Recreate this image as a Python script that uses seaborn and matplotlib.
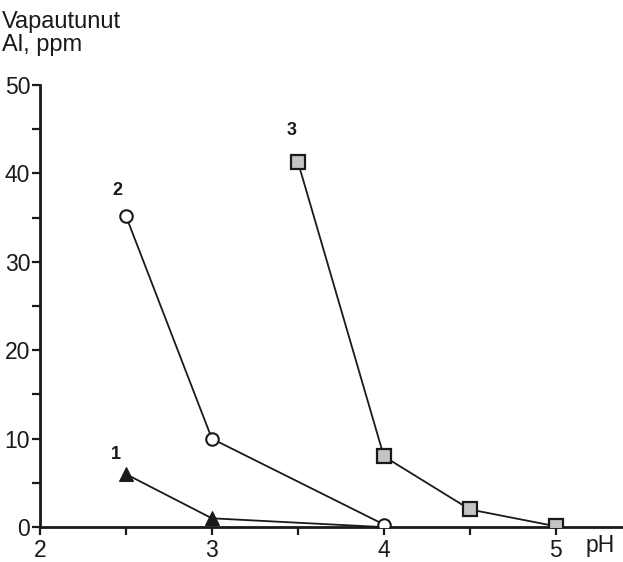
import matplotlib
matplotlib.use("Agg")
import matplotlib.pyplot as plt
import seaborn as sns
import pandas as pd

# Released aluminium (ppm) as a function of pH for three samples
ph_1 = [2.5, 3.0, 4.0]
al_1 = [6.0, 1.0, 0.0]
ph_2 = [2.5, 3.0, 4.0]
al_2 = [35.2, 10.0, 0.3]
ph_3 = [3.5, 4.0, 4.5, 5.0]
al_3 = [41.3, 8.0, 2.0, 0.1]
series_labels = ["1", "2", "3"]
x_ticks = [2, 3, 4, 5]
y_ticks = [0, 10, 20, 30, 40, 50]

sns.set_style("ticks")
plt.rcParams["font.family"] = ["Liberation Sans", "DejaVu Sans"]

fig = plt.figure(figsize=(6.23, 5.62), dpi=100)
ax = fig.add_axes([0.064, 0.062, 0.936, 0.787])

df1 = pd.DataFrame({"pH": ph_1, "Al": al_1})
df2 = pd.DataFrame({"pH": ph_2, "Al": al_2})
df3 = pd.DataFrame({"pH": ph_3, "Al": al_3})

sns.lineplot(data=df1, x="pH", y="Al", ax=ax, color="#1a1a1a", lw=1.3,
             marker="^", markersize=10, markerfacecolor="#1a1a1a",
             markeredgecolor="#1a1a1a", zorder=3)
sns.lineplot(data=df2, x="pH", y="Al", ax=ax, color="#1a1a1a", lw=1.3,
             marker="o", markersize=9, markerfacecolor="white",
             markeredgecolor="#1a1a1a", markeredgewidth=1.5, zorder=3)
sns.lineplot(data=df3, x="pH", y="Al", ax=ax, color="#1a1a1a", lw=1.3,
             marker="s", markersize=10, markerfacecolor="#c4c4c4",
             markeredgecolor="#1a1a1a", markeredgewidth=1.6, zorder=3)

# Series numbers placed above the first point of each curve
label_offsets = [(-10, 20), (-9, 25), (-6, 31)]
for lab, xs, ys, off in zip(series_labels, [ph_1, ph_2, ph_3], [al_1, al_2, al_3],
                            label_offsets):
    ax.annotate(lab, (xs[0], ys[0]), xytext=off, textcoords="offset pixels",
                ha="center", va="center", fontsize=13, fontweight="bold",
                color="#1a1a1a")

ax.set_xlim(2, 5.39)
ax.set_ylim(0, 50)
ax.set_xticks(x_ticks)
ax.set_yticks(y_ticks)
ax.set_xticks([2.5, 3.5, 4.5], minor=True)
ax.set_yticks([5, 15, 25, 35, 45], minor=True)
ax.tick_params(axis="both", which="both", direction="out", length=6, width=1.6,
               labelsize=16.5, color="#1a1a1a", labelcolor="#1a1a1a")
ax.tick_params(axis="x", pad=2.5)
ax.tick_params(axis="y", pad=1)

ax.set_xlabel("")
ax.set_ylabel("")
for side in ["top", "right"]:
    ax.spines[side].set_visible(False)
for side in ["left", "bottom"]:
    ax.spines[side].set_linewidth(2)
    ax.spines[side].set_color("#1a1a1a")
ax.spines["left"].set_zorder(5)

fig.text(0.003, 0.98, "Vapautunut\nAl, ppm", ha="left", va="top",
         fontsize=17, color="#1a1a1a", linespacing=1.05)
ax.text(5.17, -0.75, "pH", ha="left", va="top", fontsize=16.5, color="#1a1a1a",
        transform=ax.transData)

fig.savefig("out.png", dpi=100, facecolor="white")
